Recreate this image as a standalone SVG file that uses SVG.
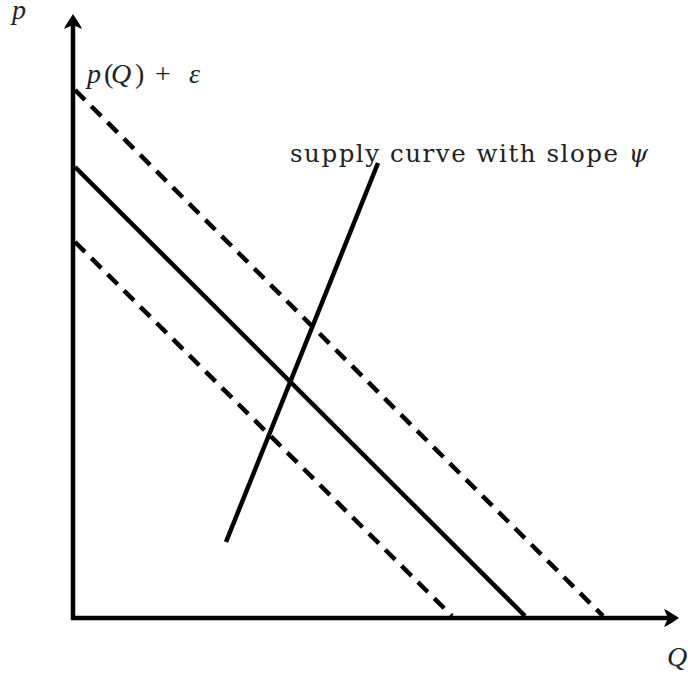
<svg xmlns="http://www.w3.org/2000/svg" width="688" height="675" viewBox="0 0 688 675">
<style>
.ax{stroke:#000;stroke-width:4.5;fill:none}
.ln{stroke:#000;stroke-width:4.5;fill:none}
.ds{stroke:#000;stroke-width:4.5;fill:none;stroke-dasharray:14 9}
.t{font-family:"DejaVu Serif","Liberation Serif",serif;font-size:24.5px;fill:#222}
.m{font-family:"Liberation Serif",serif;font-size:28px;fill:#222}
.i{font-style:italic}
</style>
<defs>
<path id="ah" d="M0,0 C-5,-3 -10,-7 -15,-9 L-11,0 L-15,9 C-10,7 -5,3 0,0 Z" fill="#000"/>
</defs>
<g id="connectors">
<line class="ax" x1="73" y1="620" x2="73" y2="20"/>
<use href="#ah" transform="translate(73,14) rotate(-90)"/>
<line class="ax" x1="71" y1="618" x2="670" y2="618"/>
<use href="#ah" transform="translate(679,618)"/>
<line class="ds" x1="75" y1="90" x2="603" y2="616"/>
<line class="ln" x1="75" y1="167" x2="525" y2="616"/>
<line class="ds" x1="75" y1="242" x2="452" y2="616"/>
<line class="ln" x1="226" y1="542" x2="378" y2="163"/>
</g>
<g id="labels">
<text class="m i" x="12" y="19">p</text>
<text class="m" y="83"><tspan class="i" x="87">p</tspan><tspan x="104">(</tspan><tspan class="i" x="111">Q</tspan><tspan x="135">)</tspan><tspan x="155">+</tspan><tspan class="i" x="189">ε</tspan></text>
<text class="t" x="290" y="162" textLength="358" lengthAdjust="spacing">supply curve with slope <tspan class="i">ψ</tspan></text>
<text class="m i" x="667" y="666">Q</text>
</g>
</svg>
